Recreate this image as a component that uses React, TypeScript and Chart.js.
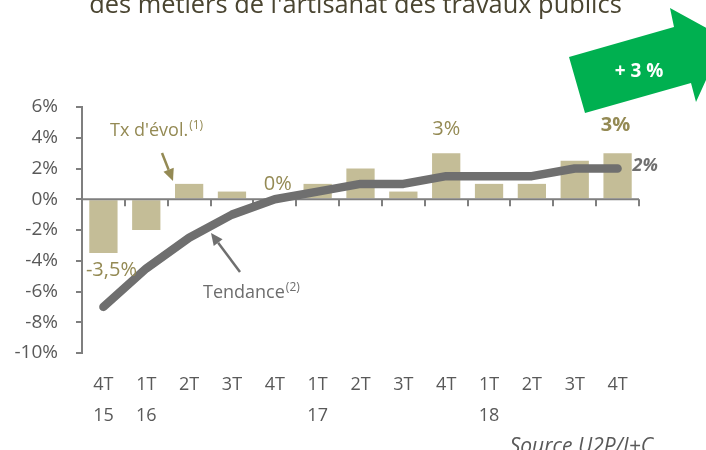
import React, { useEffect, useRef } from 'react';
import { Chart, registerables } from 'chart.js';

Chart.register(...registerables);

const quarters = ['4T', '1T', '2T', '3T', '4T', '1T', '2T', '3T', '4T', '1T', '2T', '3T', '4T'];
const years = ['15', '16', '', '', '', '17', '', '', '', '18', '', '', ''];
const evolution = [-3.5, -2, 1, 0.5, 0, 1, 2, 0.5, 3, 1, 1, 2.5, 3];
const trend = [-7, -4.5, -2.5, -1, 0, 0.5, 1, 1, 1.5, 1.5, 1.5, 2, 2];
const yTicks = [-10, -8, -6, -4, -2, 0, 2, 4, 6];
const barLabels = ['-3,5%', '', '', '', '0%', '', '', '', '3%', '', '', '', '3%'];
const trendEndLabel = '2%';
const title = "des métiers de l'artisanat des travaux publics";
const badge = '+ 3 %';
const source = 'Source U2P/I+C';
const evolName = "Tx d'évol.";
const trendName = 'Tendance';

const FONT = '"Open Sans", sans-serif';
const OLIVE = '#948a54';
const GRAY = '#595959';
const LINE = '#6f6f6f';

function drawArrow(ctx: CanvasRenderingContext2D, x1: number, y1: number, x2: number, y2: number, color: string) {
  const ang = Math.atan2(y2 - y1, x2 - x1);
  const hl = 12, hw = 5.5;
  const bx = x2 - hl * Math.cos(ang), by = y2 - hl * Math.sin(ang);
  ctx.save();
  ctx.strokeStyle = color;
  ctx.fillStyle = color;
  ctx.lineWidth = 2.5;
  ctx.beginPath();
  ctx.moveTo(x1, y1);
  ctx.lineTo(bx, by);
  ctx.stroke();
  ctx.beginPath();
  ctx.moveTo(x2, y2);
  ctx.lineTo(bx + hw * Math.sin(ang), by - hw * Math.cos(ang));
  ctx.lineTo(bx - hw * Math.sin(ang), by + hw * Math.cos(ang));
  ctx.closePath();
  ctx.fill();
  ctx.restore();
}

function textWithSup(ctx: CanvasRenderingContext2D, main: string, sup: string, x: number, y: number, color: string) {
  ctx.save();
  ctx.fillStyle = color;
  ctx.textBaseline = 'alphabetic';
  ctx.textAlign = 'left';
  ctx.font = `18px ${FONT}`;
  ctx.fillText(main, x, y);
  const w = ctx.measureText(main).width;
  ctx.font = `12px ${FONT}`;
  ctx.fillText(sup, x + w + 1, y - 7);
  ctx.restore();
}

const annotations = {
  id: 'annotations',
  afterDatasetDraw(chart: any, args: any) {
    if (args.meta.type !== 'bar') return;
    const { ctx, chartArea, scales } = chart;
    const x = scales.x, y = scales.y;
    const y0 = y.getPixelForValue(0);
    ctx.save();
    ctx.strokeStyle = '#7f7f7f';
    ctx.lineWidth = 2;
    ctx.beginPath();
    ctx.moveTo(chartArea.left, y0);
    ctx.lineTo(chartArea.right, y0);
    for (let i = 0; i < quarters.length; i++) {
      const px = Math.round(x.getPixelForValue(i + 0.5));
      ctx.moveTo(px, y0);
      ctx.lineTo(px, y0 + 7);
    }
    ctx.stroke();
    ctx.restore();
  },
  afterDraw(chart: any) {
    const { ctx } = chart;
    // title
    ctx.save();
    ctx.font = `100px ${FONT}`;
    const tw = ctx.measureText(title).width;
    const size = (100 * 533) / tw;
    ctx.font = `${size}px ${FONT}`;
    ctx.fillStyle = '#4a4531';
    ctx.textAlign = 'center';
    ctx.textBaseline = 'alphabetic';
    ctx.fillText(title, 355.5, 13);
    ctx.restore();

    // green arrow badge
    ctx.save();
    ctx.fillStyle = '#00b050';
    ctx.beginPath();
    const pts = [[585, 113], [569, 57], [674, 27], [670, 8], [725, 38], [696, 102], [691, 83]];
    pts.forEach((p, i) => (i ? ctx.lineTo(p[0], p[1]) : ctx.moveTo(p[0], p[1])));
    ctx.closePath();
    ctx.fill();
    ctx.fillStyle = '#ffffff';
    ctx.font = `bold 19px ${FONT}`;
    ctx.textAlign = 'center';
    ctx.textBaseline = 'middle';
    ctx.fillText(badge, 639, 72);
    ctx.restore();

    // bar data labels
    const barMeta = chart.getDatasetMeta(1);
    ctx.save();
    ctx.textAlign = 'center';
    ctx.textBaseline = 'middle';
    barLabels.forEach((lab, i) => {
      if (!lab) return;
      const el = barMeta.data[i];
      const v = evolution[i];
      const last = i === barLabels.length - 1;
      ctx.font = `${last ? 'bold ' : ''}20px ${FONT}`;
      ctx.fillStyle = OLIVE;
      let dy = -24, dx = 0;
      if (v < 0) { dy = 17; dx = 8; }
      else if (v === 0) { dy = -15; dx = 3; }
      else if (last) { dy = -28; dx = -2; }
      ctx.fillText(lab, el.x + dx, el.y + dy);
    });
    ctx.restore();

    // trend end label
    const lineMeta = chart.getDatasetMeta(0);
    const lastPt = lineMeta.data[lineMeta.data.length - 1];
    ctx.save();
    ctx.font = `italic bold 18px ${FONT}`;
    ctx.fillStyle = LINE;
    ctx.textAlign = 'left';
    ctx.textBaseline = 'middle';
    ctx.fillText(trendEndLabel, lastPt.x + 15, lastPt.y - 3);
    ctx.restore();

    // series callouts
    textWithSup(ctx, evolName, '(1)', 110, 136, OLIVE);
    drawArrow(ctx, 162, 153, 173, 181, OLIVE);
    textWithSup(ctx, trendName, '(2)', 203, 298, '#6d6d6d');
    drawArrow(ctx, 240, 272, 211, 233, LINE);

    // source
    ctx.save();
    ctx.font = `italic 21px ${FONT}`;
    ctx.fillStyle = GRAY;
    ctx.textAlign = 'right';
    ctx.textBaseline = 'alphabetic';
    ctx.fillText(source, 653, 453);
    ctx.restore();
  },
};

export default function App() {
  const ref = useRef<HTMLCanvasElement>(null);
  useEffect(() => {
    if (!ref.current) return;
    const labels = quarters.map((q, i) => (years[i] ? [q, years[i]] : q));
    const chart = new Chart(ref.current, {
      type: 'bar',
      data: {
        labels,
        datasets: [
          {
            type: 'line',
            data: trend,
            borderColor: LINE,
            borderWidth: 8.5,
            pointRadius: 0,
            borderCapStyle: 'round',
            borderJoinStyle: 'round',
            tension: 0,
            order: 0,
          } as any,
          {
            type: 'bar',
            data: evolution,
            backgroundColor: '#c4bd97',
            categoryPercentage: 1,
            barPercentage: 0.66,
            order: 1,
          },
        ],
      },
      options: {
        responsive: false,
        animation: false,
        layout: { padding: { top: 107, right: 67, left: 0, bottom: 0 } },
        plugins: { legend: { display: false }, tooltip: { enabled: false }, title: { display: false } },
        scales: {
          x: {
            grid: { display: false, drawTicks: false },
            border: { display: false },
            ticks: {
              color: GRAY,
              font: { family: FONT, size: 18, lineHeight: 1.72 },
              padding: 16,
              maxRotation: 0,
              autoSkip: false,
            },
            afterFit: (s: any) => { s.height = 97; },
          },
          y: {
            min: -10,
            max: 6,
            afterBuildTicks: (s: any) => { s.ticks = yTicks.map((v) => ({ value: v })); },
            ticks: {
              callback: (v: any) => `${v}%`,
              color: GRAY,
              font: { family: FONT, size: 19 },
              padding: 18,
            },
            grid: { drawOnChartArea: false, drawTicks: true, tickLength: 6, color: '#7f7f7f', lineWidth: 2 },
            border: { color: '#7f7f7f', width: 2 },
            afterFit: (s: any) => { s.width = 82; },
          },
        },
      } as any,
      plugins: [annotations],
    });
    return () => chart.destroy();
  }, []);
  return (
    <div style={{ position: 'fixed', left: 0, top: 0, width: 706, height: 450, background: '#fff' }}>
      <canvas ref={ref} width={706} height={450} style={{ display: 'block' }} />
    </div>
  );
}
